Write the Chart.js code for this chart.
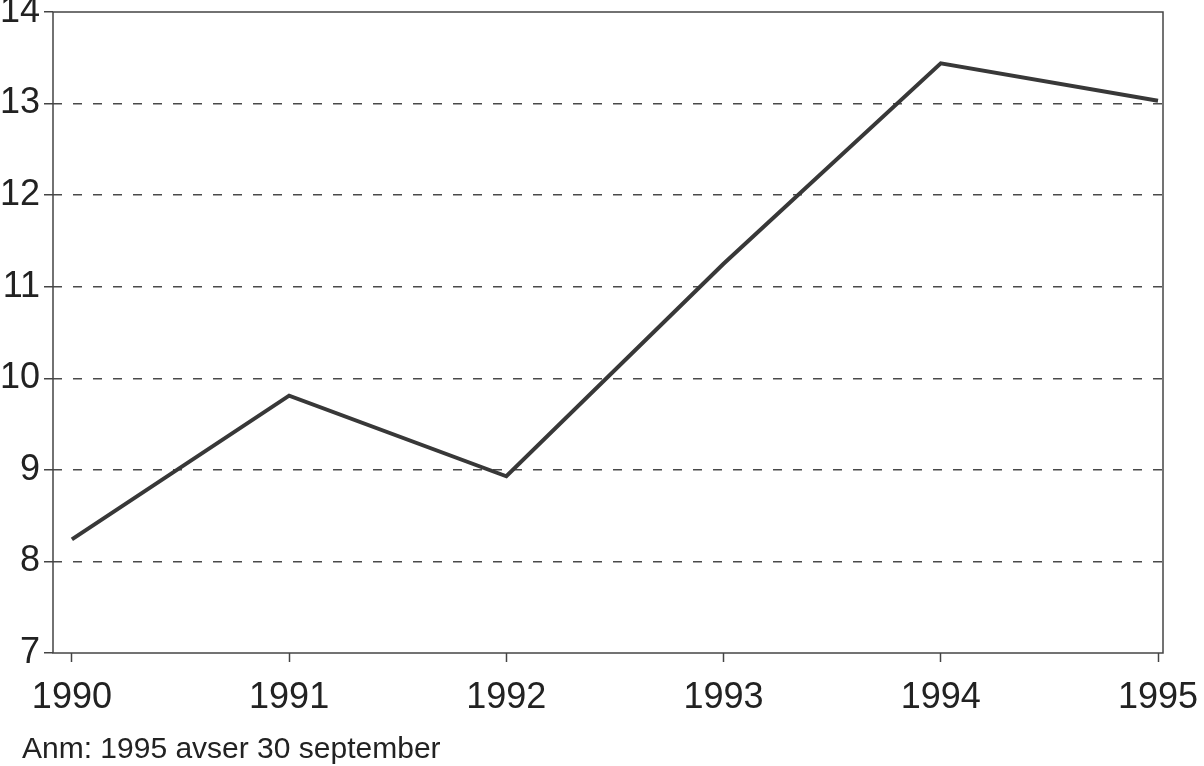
<!DOCTYPE html>
<html>
<head>
<meta charset="utf-8">
<script src="https://cdn.jsdelivr.net/npm/chart.js@4/dist/chart.umd.min.js"></script>
<style>
  html, body { margin: 0; padding: 0; background: #fff; }
  #wrap { position: relative; width: 1204px; height: 766px; }
  #note {
    position: absolute; left: 22px; top: 731px;
    font-family: "Liberation Sans", Arial, sans-serif;
    font-size: 30px; color: #222; white-space: nowrap;
  }
</style>
</head>
<body>
<div id="wrap">
  <canvas id="Chart1" width="1204" height="766"></canvas>
  <div id="note">Anm: 1995 avser 30 september</div>
</div>
<script>
// data
var years = [1990, 1991, 1992, 1993, 1994, 1995];
var values = [8.24, 9.81, 8.93, 11.25, 13.44, 13.03];
var yTicks = [7, 8, 9, 10, 11, 12, 13, 14];

var context = document.getElementById("Chart1").getContext("2d");

// box round the plot area
var framePlugin = {
	id: 'frame',
	beforeDatasetsDraw: function(chart) {
		var a = chart.chartArea, ctx = chart.ctx;
		ctx.save();
		ctx.strokeStyle = '#444';
		ctx.lineWidth = 1.5;
		ctx.strokeRect(a.left, a.top, a.right - a.left, a.bottom - a.top);
		ctx.restore();
	}
};

var myChart = new Chart(context, {
	type: 'line',
	data: {
		datasets: [{
			data: years.map(function(y, i) { return {x: y, y: values[i]}; }),
			borderColor: '#383838',
			borderWidth: 4,
			pointRadius: 0,
			tension: 0
		}]
	},
	options: {
		responsive: false,
		animation: false,
		layout: { padding: { top: 12, right: 41, left: 0, bottom: 0 } },
		plugins: {
			legend: { display: false },
			tooltip: { enabled: false }
		},
		scales: {
			x: {
				type: 'linear',
				min: 1989.913,
				max: 1995.023,
				afterBuildTicks: function(scale) {
					scale.ticks = years.map(function(v) { return {value: v}; });
				},
				afterFit: function(scale) {
					scale.height = 113;
					scale.paddingLeft = 0;
					scale.paddingRight = 0;
				},
				border: { display: false },
				grid: {
					drawOnChartArea: false,
					drawTicks: true,
					tickLength: 9,
					tickColor: '#444',
					tickWidth: 1.5
				},
				ticks: {
					padding: 14,
					color: '#222',
					maxRotation: 0,
					autoSkip: false,
					font: { family: 'Liberation Sans', size: 36 },
					callback: function(v) { return String(v); }
				}
			},
			y: {
				min: 7,
				max: 14,
				afterBuildTicks: function(scale) {
					scale.ticks = yTicks.map(function(v) { return {value: v}; });
				},
				afterFit: function(scale) {
					scale.width = 53;
					scale.paddingTop = 0;
					scale.paddingBottom = 0;
				},
				border: { display: false, dash: [9, 11] },
				grid: {
					drawTicks: true,
					tickLength: 9,
					tickColor: '#444',
					tickWidth: 1.5,
					tickBorderDash: [],
					lineWidth: 1.5,
					color: function(c) {
						var v = c.tick ? c.tick.value : null;
						return (v === 7 || v === 14) ? 'rgba(0,0,0,0)' : '#4a4a4a';
					}
				},
				ticks: {
					padding: 4,
					color: '#222',
					font: { family: 'Liberation Sans', size: 36 },
					callback: function(v) { return String(v); }
				}
			}
		}
	},
	plugins: [framePlugin]
});
</script>
</body>
</html>
